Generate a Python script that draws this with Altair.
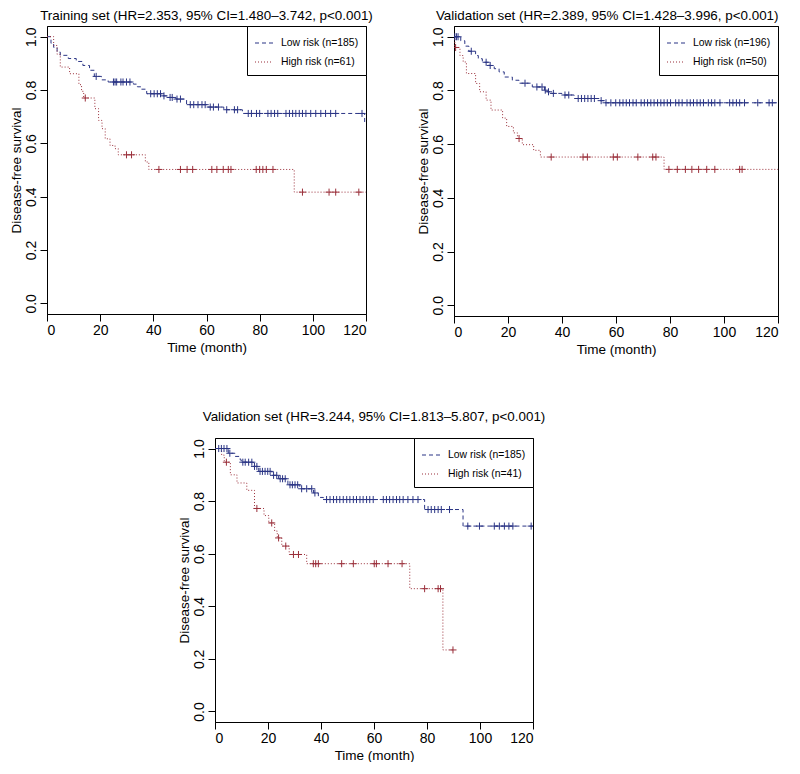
import altair as alt
import pandas as pd

FONT = "Liberation Sans"
LOW_COLOR = "#2b3585"
HIGH_COLOR = "#9a2f3a"
X_TICKS = [0, 20, 40, 60, 80, 100, 120]
Y_TICKS = [0.0, 0.2, 0.4, 0.6, 0.8, 1.0]

# ---------------- Panel 1: training set ----------------
p1_title = "Training set (HR=2.353, 95% CI=1.480–3.742, p<0.001)"
p1_groups = ["Low risk (n=185)", "High risk (n=61)"]
p1_low_t = [0, 1.5, 2.5, 3.8, 5.0, 8.0, 11.0, 13.5, 16.0, 17.8, 20.5, 23.0, 32.5, 34.0, 35.5,
            37.5, 43.5, 45.5, 48.5, 52.5, 60.5, 66.5, 73.5, 119.5]
p1_low_s = [1.0, 0.975, 0.960, 0.942, 0.930, 0.918, 0.907, 0.892, 0.874, 0.851, 0.838, 0.830,
            0.822, 0.812, 0.803, 0.786, 0.778, 0.772, 0.766, 0.745, 0.736, 0.726, 0.712, 0.675]
p1_low_end = 120
p1_low_cens = [18.5, 25.0, 25.6, 26.2, 27.8, 28.6, 29.9, 31.2, 39.0, 40.3, 41.5, 42.7, 44.0, 46.3,
               47.1, 48.9, 50.2, 53.9, 55.2, 56.8, 58.3, 59.5, 61.4, 62.6, 64.5, 67.6, 70.5, 71.7,
               75.7, 76.9, 78.8, 80.0, 83.1, 84.3, 85.6, 86.8, 89.9, 91.2, 92.4, 93.6, 94.9, 96.1,
               97.4, 99.2, 101.1, 103.0, 104.8, 106.7, 108.6, 118.5]
p1_high_t = [0, 2.5, 3.8, 5.0, 8.5, 12.0, 13.0, 13.8, 18.0, 19.4, 20.7, 21.9, 23.7, 25.6, 26.8,
             37.0, 38.3, 93.0]
p1_high_s = [1.0, 0.967, 0.934, 0.886, 0.861, 0.820, 0.795, 0.770, 0.730, 0.686, 0.655, 0.617,
             0.592, 0.580, 0.557, 0.530, 0.502, 0.417]
p1_high_end = 120
p1_high_cens = [14.4, 29.9, 31.8, 42.1, 50.2, 52.7, 54.8, 62.0, 63.9, 66.3, 68.2, 69.2, 78.7, 80.0,
                81.2, 82.5, 85.0, 96.1, 106.1, 108.6, 117.3]

# ---------------- Panel 2: validation set ----------------
p2_title = "Validation set (HR=2.389, 95% CI=1.428–3.996, p<0.001)"
p2_groups = ["Low risk (n=196)", "High risk (n=50)"]
p2_low_t = [0, 2.5, 4.0, 5.5, 8.0, 9.0, 10.5, 13.0, 14.9, 16.7, 18.6, 21.6, 24.1, 29.0, 33.5,
            34.5, 36.0, 40.0, 44.5, 54.0, 55.5]
p2_low_s = [1.0, 0.985, 0.965, 0.946, 0.930, 0.918, 0.905, 0.893, 0.881, 0.869, 0.850, 0.838,
            0.827, 0.813, 0.801, 0.795, 0.789, 0.783, 0.770, 0.762, 0.754]
p2_low_end = 120
p2_low_cens = [0.3, 0.9, 1.5, 6.4, 11.9, 13.4, 26.3, 30.7, 32.6, 33.8, 35.0, 36.8, 41.1, 42.5,
               46.0, 47.2, 48.4, 49.6, 50.8, 52.0, 54.5, 56.3, 58.1, 59.9, 61.4, 62.6, 63.8, 65.0,
               66.3, 67.5, 69.3, 70.5, 71.7, 72.9, 74.1, 75.4, 76.6, 77.8, 79.0, 80.2, 82.1, 83.3,
               84.5, 86.3, 87.5, 88.7, 90.0, 91.2, 92.4, 94.2, 95.4, 96.6, 98.5, 102.1, 103.3,
               104.6, 105.8, 107.6, 112.5, 116.7, 117.9]
p2_high_t = [0, 0.3, 2.2, 3.4, 4.6, 8.0, 9.5, 11.9, 13.7, 18.0, 19.5, 22.0, 23.5, 25.3, 29.5,
             32.0, 77.8]
p2_high_s = [1.0, 0.960, 0.930, 0.906, 0.863, 0.826, 0.795, 0.764, 0.727, 0.697, 0.666, 0.642,
             0.621, 0.598, 0.577, 0.552, 0.506]
p2_high_end = 120
p2_high_cens = [0.6, 24.1, 36.0, 47.8, 49.4, 59.0, 60.5, 68.1, 73.6, 74.8, 79.6, 82.7, 85.7,
                88.1, 90.6, 93.6, 96.6, 105.8, 106.7]

# ---------------- Panel 3: validation set ----------------
p3_title = "Validation set (HR=3.244, 95% CI=1.813–5.807, p<0.001)"
p3_groups = ["Low risk (n=185)", "High risk (n=41)"]
p3_low_t = [0, 5.0, 7.6, 9.5, 9.9, 14.5, 16.5, 21.5, 24.0, 27.5, 32.0, 37.2, 39.0, 40.9, 79.1,
            93.6]
p3_low_s = [1.0, 0.982, 0.970, 0.957, 0.948, 0.932, 0.913, 0.898, 0.885, 0.862, 0.847, 0.831,
            0.814, 0.806, 0.768, 0.705]
p3_low_end = 120
p3_low_cens = [1.4, 2.4, 3.4, 4.5, 5.6, 10.5, 11.4, 12.7, 13.9, 14.9, 15.8, 17.0, 17.9, 18.9,
               19.9, 20.8, 22.1, 23.3, 24.6, 25.5, 26.5, 28.3, 29.2, 30.2, 31.2, 32.7, 34.6, 36.5,
               37.7, 42.1, 43.4, 44.7, 45.9, 47.1, 48.4, 49.7, 50.9, 52.2, 53.4, 54.7, 55.9, 57.2,
               58.4, 59.7, 63.5, 64.7, 65.9, 67.2, 68.5, 69.7, 71.0, 72.8, 74.7, 76.6, 80.4, 81.6,
               82.9, 84.2, 85.4, 88.5, 95.4, 99.8, 105.4, 107.3, 109.2, 110.9, 112.4, 119.3]
p3_high_t = [0, 2.5, 3.5, 5.8, 8.3, 12.0, 14.9, 18.5, 20.3, 22.5, 23.5, 25.2, 28.0, 34.6, 73.5,
             86.0]
p3_high_s = [1.0, 0.975, 0.948, 0.900, 0.869, 0.841, 0.772, 0.745, 0.717, 0.686, 0.660, 0.629,
             0.597, 0.562, 0.467, 0.234]
p3_high_end = 89.8
p3_high_cens = [4.3, 15.8, 21.4, 24.0, 26.7, 29.6, 31.5, 37.1, 38.0, 39.0, 47.8, 52.2, 60.1,
                60.9, 65.3, 70.6, 79.1, 84.2, 85.1, 89.8]


def surv_at(times, surv, t):
    val = surv[0]
    for ti, si in zip(times, surv):
        if ti <= t:
            val = si
    return val


def step_rows(times, surv, end, group):
    rows = [{"t": t, "s": s, "group": group} for t, s in zip(times, surv)]
    rows.append({"t": end, "s": surv[-1], "group": group})
    return rows


def cens_rows(times, surv, cens, group):
    return [{"t": c, "s": surv_at(times, surv, c), "group": group} for c in cens]


PLUS = "M-1,0H1M0,-1V1"


def panel(title, groups, low, high, width, height, title_offset, title_anchor):
    lt, ls, le, lc = low
    ht, hs, he, hc = high
    lines = pd.DataFrame(step_rows(lt, ls, le, groups[0]) + step_rows(ht, hs, he, groups[1]))
    low_c = pd.DataFrame(cens_rows(lt, ls, lc, groups[0]))
    high_c = pd.DataFrame(cens_rows(ht, hs, hc, groups[1]))

    x = alt.X("t:Q", scale=alt.Scale(domain=[0, 120], nice=False, zero=False),
              axis=alt.Axis(values=X_TICKS, title="Time (month)", format="d"))
    y = alt.Y("s:Q", scale=alt.Scale(domain=[-0.04, 1.04], nice=False, zero=False),
              axis=alt.Axis(values=Y_TICKS, format=".1f", title="Disease-free survival",
                            labelAngle=270, labelAlign="center", labelBaseline="bottom",
                            titleX=-31, titleBaseline="middle"))
    line = alt.Chart(lines).mark_line(interpolate="step-after", strokeWidth=1, clip=True).encode(
        x=x, y=y,
        color=alt.Color("group:N", scale=alt.Scale(domain=groups, range=[LOW_COLOR, HIGH_COLOR]),
                        title=None, legend=alt.Legend(orient="top-right")),
        strokeDash=alt.StrokeDash("group:N",
                                  scale=alt.Scale(domain=groups, range=[[4, 3], [1, 2]]),
                                  title=None, legend=alt.Legend(orient="top-right")),
    )
    pl = alt.Chart(low_c).mark_point(shape=PLUS, filled=False, size=50, strokeWidth=1,
                                     clip=True, opacity=1).encode(
        x="t:Q", y="s:Q", color=alt.value(LOW_COLOR))
    ph = alt.Chart(high_c).mark_point(shape=PLUS, filled=False, size=50, strokeWidth=1,
                                      clip=True, opacity=1).encode(
        x="t:Q", y="s:Q", color=alt.value(HIGH_COLOR))
    return alt.layer(line, pl, ph).properties(
        width=width, height=height,
        title=alt.TitleParams(title, font=FONT, fontSize=13.4, fontWeight="normal",
                              color="black", anchor=title_anchor, offset=title_offset),
    )


c1 = panel(p1_title, p1_groups, (p1_low_t, p1_low_s, p1_low_end, p1_low_cens),
           (p1_high_t, p1_high_s, p1_high_end, p1_high_cens), 319, 288, 3, "middle")
c2 = panel(p2_title, p2_groups, (p2_low_t, p2_low_s, p2_low_end, p2_low_cens),
           (p2_high_t, p2_high_s, p2_high_end, p2_high_cens), 324, 290, 3, "end")
c3 = panel(p3_title, p3_groups, (p3_low_t, p3_low_s, p3_low_end, p3_low_cens),
           (p3_high_t, p3_high_s, p3_high_end, p3_high_cens), 318, 284, 14, "middle")

spacer = alt.Chart(pd.DataFrame({"a": [0]})).mark_point(opacity=0).properties(
    width=128, height=10, view=alt.ViewConfig(stroke="transparent"))

top = alt.hconcat(c1, c2, spacing=41).resolve_scale(
    color="independent", strokeDash="independent").resolve_legend(
    color="independent", strokeDash="independent")
bottom = alt.hconcat(spacer, c3, spacing=0).resolve_scale(
    color="independent", strokeDash="independent").resolve_legend(
    color="independent", strokeDash="independent")

chart = alt.vconcat(top, bottom, spacing=53).resolve_scale(
    color="independent", strokeDash="independent").resolve_legend(
    color="independent", strokeDash="independent").properties(
    background="white", padding=0).configure_view(
    stroke="black", strokeWidth=1).configure_axis(
    labelFont=FONT, titleFont=FONT, labelFontSize=14, titleFontSize=13.5,
    titleFontWeight="normal", labelColor="black", titleColor="black", domainColor="black",
    tickColor="black", tickSize=7, grid=False, labelPadding=2, titlePadding=3
).configure_legend(
    offset=0, padding=7, strokeColor="black", fillColor="white", labelFont=FONT,
    labelFontSize=10.4, labelColor="black", symbolType="stroke", symbolSize=324,
    symbolStrokeWidth=1.2, rowPadding=3, labelOffset=7, cornerRadius=0)

chart.save("out.html", embed_options={"renderer": "svg", "actions": False})
